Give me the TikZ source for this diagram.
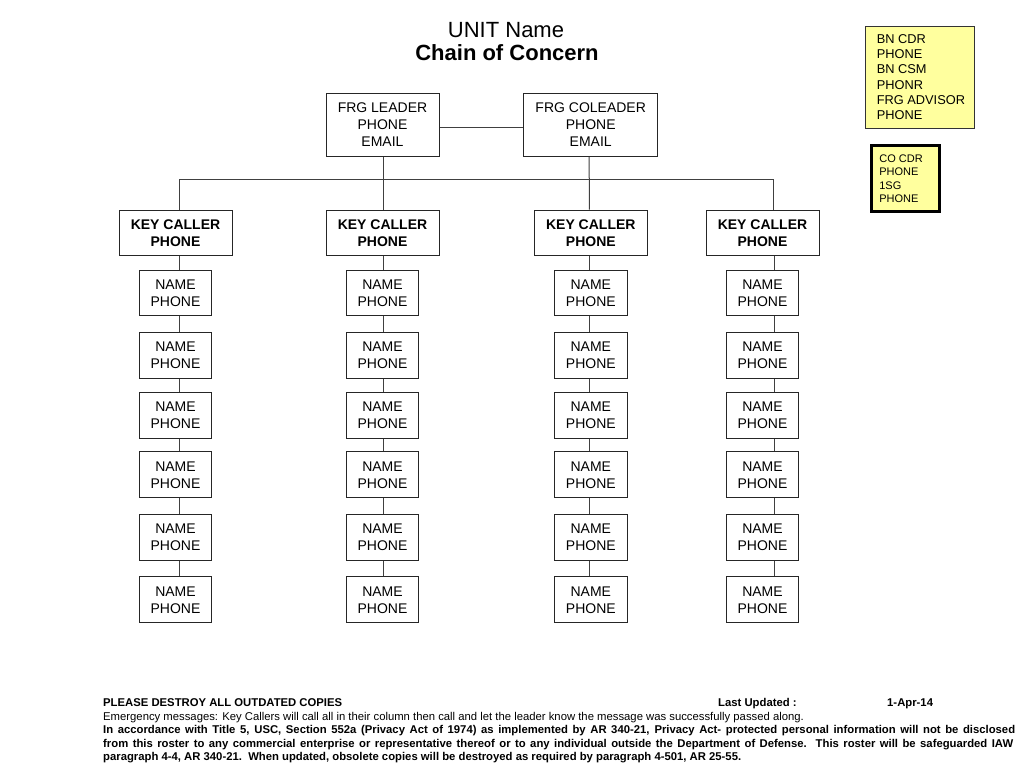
\documentclass[tikz,border=0pt]{standalone}
\usepackage{fontspec}
\setmainfont{Liberation Sans}
\definecolor{yellowbox}{RGB}{255,255,158}
\begin{document}
\begin{tikzpicture}[x=1pt,y=-1pt,
  box/.style={draw=black!85, line width=1pt, align=center, inner sep=0pt, font=\fontsize{14}{17}\selectfont},
  namebox/.style={box, minimum width=72.5pt, minimum height=45.7pt},
  keybox/.style={box, minimum width=113pt, minimum height=45.7pt, font=\fontsize{14}{17}\selectfont\bfseries},
  frgbox/.style={box, minimum height=63pt},
  link/.style={draw=black!75, line width=1pt},
  foot/.style={anchor=base west, inner sep=0pt, font=\fontsize{11.3}{13.7}\selectfont},
  footb/.style={anchor=base west, inner sep=0pt, font=\fontsize{11.3}{13.7}\selectfont\bfseries},
  ttl/.style={anchor=base, inner sep=0pt, font=\fontsize{22}{26}\selectfont},
  ybox/.style={fill=yellowbox, inner sep=0pt},
  ytext/.style={anchor=west, align=left, inner sep=0pt}
]
\useasboundingbox[fill=white] (0,0) rectangle (1024,768);

% title
\node[ttl] (t1) at (506,37.7) {UNIT Name};
\node[ttl, font=\fontsize{22}{26}\selectfont\bfseries] (t2) at (507,60) {Chain of Concern};

% FRG leaders
\node[frgbox, minimum width=113pt] (lead) at (382.5,124.8) {FRG LEADER\\PHONE\\EMAIL};
\node[frgbox, minimum width=134pt] (colead) at (590.7,124.8) {FRG COLEADER\\PHONE\\EMAIL};
\draw[link] ([yshift=-2.9pt]lead.east) -- ([yshift=-2.9pt]colead.west);

% columns
\foreach \c/\x/\dx in {1/175.5/3.5, 2/382.5/1.2, 3/590.8/-1.5, 4/762.5/11.5} {
  \node[keybox] (k\c) at (\x,232.9) {KEY CALLER\\PHONE};
  \foreach \r/\y in {1/292.9,2/355.5,3/415.2,4/474.8,5/537.2,6/599.8} {
    \node[namebox] (n\c\r) at (\x,\y) {NAME\\PHONE};
  }
  \draw[link] ([xshift=\dx pt]k\c.south) -- ([xshift=\dx pt]n\c1.north);
  \foreach \r in {2,...,6} {
    \pgfmathtruncatemacro{\p}{\r-1}
    \draw[link] ([xshift=\dx pt]n\c\p.south) -- ([xshift=\dx pt]n\c\r.north);
  }
}

% bus
\coordinate (busL) at (179,179);
\coordinate (busR) at (773.5,179);
\draw[link] (busL) -- (busR);
\draw[link] (busL) -- (k1.north -| busL);
\draw[link] (busR) -- (k4.north -| busR);
\draw[link] ([xshift=1.2pt]lead.south) -- ([xshift=1.2pt]k2.north);
\draw[link] ([xshift=-1.5pt]colead.south) -- ([xshift=-1.5pt]k3.north);

% yellow boxes
\node[ybox, draw=black!80, line width=0.8pt, minimum width=109.5pt, minimum height=101.8pt] (bn) at (919.8,77) {};
\node[ytext, font=\fontsize{12.8}{15.3}\selectfont] (bntext) at ([xshift=12pt]bn.west)
      {BN CDR\\PHONE\\BN CSM\\PHONR\\FRG ADVISOR\\PHONE};
\node[ybox, draw=black, line width=3pt, minimum width=67.7pt, minimum height=66pt] (co) at (905.3,178.8) {};
\node[ytext, font=\fontsize{11}{13.3}\selectfont] (cotext) at ([xshift=9.2pt]co.west)
      {CO CDR\\PHONE\\1SG\\PHONE};

% footer
\node[footb] (f1) at (103,706.3) {PLEASE DESTROY ALL OUTDATED COPIES};
\node[footb] (f2) at (718,706.3) {Last Updated :};
\node[footb] (f3) at (887,706.3) {1-Apr-14};
\node[foot] (f4) at (103,720) {Emergency messages: Key Callers will call all in their column then call and let the leader know the message was successfully passed along.};
\node[footb] (f5) at (103,733.7) {\makebox[912pt][s]{In accordance with Title 5, USC, Section 552a (Privacy Act of 1974) as implemented by AR 340-21, Privacy Act- protected personal information will not be disclosed}};
\node[footb] (f6) at (103,747.2) {\makebox[910pt][s]{from this roster to any commercial enterprise or representative thereof or to any individual outside the Department of Defense.\ \ This roster will be safeguarded IAW}};
\node[footb] (f7) at (103,760.5) {paragraph 4-4, AR 340-21.\ \ When updated, obsolete copies will be destroyed as required by paragraph 4-501, AR 25-55.};
\end{tikzpicture}
\end{document}
